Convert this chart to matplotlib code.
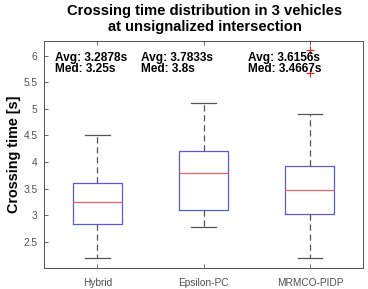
import matplotlib
matplotlib.use("Agg")
import matplotlib.pyplot as plt

plt.rcParams['font.family'] = ['Liberation Sans', 'DejaVu Sans']

categories = ["Hybrid", "Epsilon-PC", "MRMCO-PIDP"]
whisker_low = [2.2, 2.77, 2.2]
q1 = [2.83, 3.1, 3.03]
medians = [3.25, 3.8, 3.4667]
q3 = [3.6, 4.2, 3.93]
whisker_high = [4.5, 5.1, 4.9]
means = [3.2878, 3.7833, 3.6156]
outliers = [[], [], [6.1, 5.68]]
avg_labels = ["3.2878", "3.7833", "3.6156"]
med_labels = ["3.25", "3.8", "3.4667"]

stats = []
for i, c in enumerate(categories):
    stats.append(dict(label=c, whislo=whisker_low[i], q1=q1[i], med=medians[i],
                      q3=q3[i], whishi=whisker_high[i], mean=means[i],
                      fliers=outliers[i]))

fig = plt.figure(figsize=(3.68, 2.89), dpi=100)
ax = fig.add_axes([44.3/368, 1 - 268.3/289, (363 - 44.3)/368, (268.3 - 40.7)/289])

ax.bxp(stats, positions=[1, 2, 3], widths=0.46, capwidths=0.23, showfliers=True,
       boxprops=dict(color="#5a5ae0", linewidth=0.9),
       medianprops=dict(color="#f06060", linewidth=0.9),
       whiskerprops=dict(color="#555555", linestyle=(0, (5, 3)), linewidth=0.9),
       capprops=dict(color="#555555", linewidth=0.9),
       flierprops=dict(marker="+", markeredgecolor="#e02020", markersize=6,
                       linestyle="none", markeredgewidth=0.8))

ax.set_xlim(0.5, 3.5)
ax.set_ylim(2.0, 6.28)
ax.set_yticks([2.5, 3, 3.5, 4, 4.5, 5, 5.5, 6])
ax.set_yticklabels(["2.5", "3", "3.5", "4", "4.5", "5", "5.5", "6"])
ax.set_xticks([1, 2, 3])
ax.set_xticklabels(categories)
ax.tick_params(direction="in", length=3, width=0.6, colors="#505050", labelsize=7.3,
               top=True, right=False)
ax.tick_params(axis="x", pad=7)
ax.tick_params(axis="y", pad=5)
for s in ax.spines.values():
    s.set_color("#505050")
    s.set_linewidth(0.7)

text_x = [0.6, 1.41, 2.415]
for i in range(3):
    ax.text(text_x[i], 6.06, f"Avg: {avg_labels[i]}s\nMed: {med_labels[i]}s",
            fontsize=8.6, fontweight="bold", va="top", ha="left",
            linespacing=0.8, color="black")

ax.set_ylabel("Crossing time [s]", fontsize=10.4, fontweight="bold")
ax.yaxis.set_label_coords((21 - 44.3)/318.7, 0.5)
fig.text(205/368, 1 - 4/289, "Crossing time distribution in 3 vehicles\nat unsignalized intersection",
         ha="center", va="top", fontsize=10.6, fontweight="bold", linespacing=1.15)

fig.savefig("out.png", dpi=100, facecolor="white")
